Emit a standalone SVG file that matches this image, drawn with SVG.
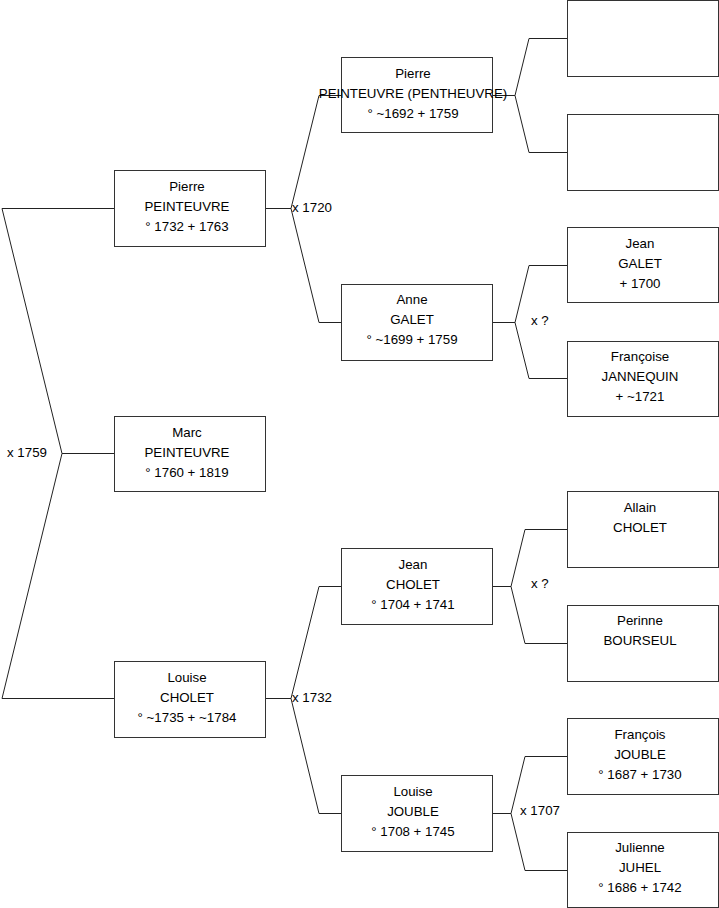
<svg xmlns="http://www.w3.org/2000/svg" width="719" height="908" viewBox="0 0 719 908">
<style>
.box{fill:#fff;stroke:#333;stroke-width:1}
.ln{fill:none;stroke:#222;stroke-width:1}
text{font-family:"Liberation Sans",Arial,sans-serif;font-size:13.3px;fill:#000}
.c{text-anchor:middle}
</style>
<rect width="719" height="908" fill="#fff"/>
<g id="connectors">
<polyline class="ln" points="114,453.5 62,453.5"/>
<polyline class="ln" points="114,208.5 2,208.5 62,453.5 2,698.5 114,698.5"/>
<polyline class="ln" points="265,208.5 291,208.5"/>
<polyline class="ln" points="341,95.5 319,95.5 291,208.5 319,322.5 341,322.5"/>
<polyline class="ln" points="265,698.5 291,698.5"/>
<polyline class="ln" points="341,586.5 319,586.5 291,698.5 319,813.5 341,813.5"/>
<polyline class="ln" points="492,95.5 515,95.5"/>
<polyline class="ln" points="567,38.5 529,38.5 515,95.5 529,152.5 567,152.5"/>
<polyline class="ln" points="492,322.5 515,322.5"/>
<polyline class="ln" points="567,265.5 529,265.5 515,322.5 529,378.5 567,378.5"/>
<polyline class="ln" points="492,586.5 511,586.5"/>
<polyline class="ln" points="567,529.5 525,529.5 511,586.5 525,643.5 567,643.5"/>
<polyline class="ln" points="492,813.5 511,813.5"/>
<polyline class="ln" points="567,756.5 525,756.5 511,813.5 525,870.5 567,870.5"/>
<text x="7" y="457">x 1759</text>
<text x="292" y="212">x 1720</text>
<text x="292" y="702">x 1732</text>
<text x="531" y="325">x ?</text>
<text x="531" y="588">x ?</text>
<text x="520" y="815">x 1707</text>
</g>
<g id="n-pierre-1732">
<rect class="box" x="114.5" y="170.5" width="151" height="76"/>
<text class="c" x="187" y="191">Pierre</text>
<text class="c" x="187" y="211">PEINTEUVRE</text>
<text class="c" x="187" y="231">° 1732 + 1763</text>
</g>
<g id="n-marc">
<rect class="box" x="114.5" y="416.5" width="151" height="75"/>
<text class="c" x="187" y="437">Marc</text>
<text class="c" x="187" y="457">PEINTEUVRE</text>
<text class="c" x="187" y="477">° 1760 + 1819</text>
</g>
<g id="n-louise-cholet">
<rect class="box" x="114.5" y="661.5" width="151" height="76"/>
<text class="c" x="187" y="682">Louise</text>
<text class="c" x="187" y="702">CHOLET</text>
<text class="c" x="187" y="722">° ~1735 + ~1784</text>
</g>
<g id="n-pierre-1692">
<rect class="box" x="341.5" y="57.5" width="151" height="75"/>
<text class="c" x="413" y="78">Pierre</text>
<text class="c" x="413" y="98">PEINTEUVRE (PENTHEUVRE)</text>
<text class="c" x="413" y="118">° ~1692 + 1759</text>
</g>
<g id="n-anne-galet">
<rect class="box" x="341.5" y="284.5" width="151" height="76"/>
<text class="c" x="412" y="304">Anne</text>
<text class="c" x="412" y="324">GALET</text>
<text class="c" x="412" y="344">° ~1699 + 1759</text>
</g>
<g id="n-jean-cholet">
<rect class="box" x="341.5" y="548.5" width="151" height="76"/>
<text class="c" x="413" y="569">Jean</text>
<text class="c" x="413" y="589">CHOLET</text>
<text class="c" x="413" y="609">° 1704 + 1741</text>
</g>
<g id="n-louise-jouble">
<rect class="box" x="341.5" y="775.5" width="151" height="76"/>
<text class="c" x="413" y="796">Louise</text>
<text class="c" x="413" y="816">JOUBLE</text>
<text class="c" x="413" y="836">° 1708 + 1745</text>
</g>
<g id="n-empty-1">
<rect class="box" x="567.5" y="0.5" width="151" height="76"/>
</g>
<g id="n-empty-2">
<rect class="box" x="567.5" y="114.5" width="151" height="76"/>
</g>
<g id="n-jean-galet">
<rect class="box" x="567.5" y="227.5" width="151" height="75"/>
<text class="c" x="640" y="248">Jean</text>
<text class="c" x="640" y="268">GALET</text>
<text class="c" x="640" y="288"> + 1700</text>
</g>
<g id="n-francoise">
<rect class="box" x="567.5" y="341.5" width="151" height="75"/>
<text class="c" x="640" y="361">Françoise</text>
<text class="c" x="640" y="381">JANNEQUIN</text>
<text class="c" x="640" y="401">+ ~1721</text>
</g>
<g id="n-allain">
<rect class="box" x="567.5" y="491.5" width="151" height="76"/>
<text class="c" x="640" y="512">Allain</text>
<text class="c" x="640" y="532">CHOLET</text>
</g>
<g id="n-perinne">
<rect class="box" x="567.5" y="605.5" width="151" height="76"/>
<text class="c" x="640" y="625">Perinne</text>
<text class="c" x="640" y="645">BOURSEUL</text>
</g>
<g id="n-francois">
<rect class="box" x="567.5" y="718.5" width="151" height="76"/>
<text class="c" x="640" y="739">François</text>
<text class="c" x="640" y="759">JOUBLE</text>
<text class="c" x="640" y="779">° 1687 + 1730</text>
</g>
<g id="n-julienne">
<rect class="box" x="567.5" y="832.5" width="151" height="75"/>
<text class="c" x="640" y="852">Julienne</text>
<text class="c" x="640" y="872">JUHEL</text>
<text class="c" x="640" y="892">° 1686 + 1742</text>
</g>
</svg>
